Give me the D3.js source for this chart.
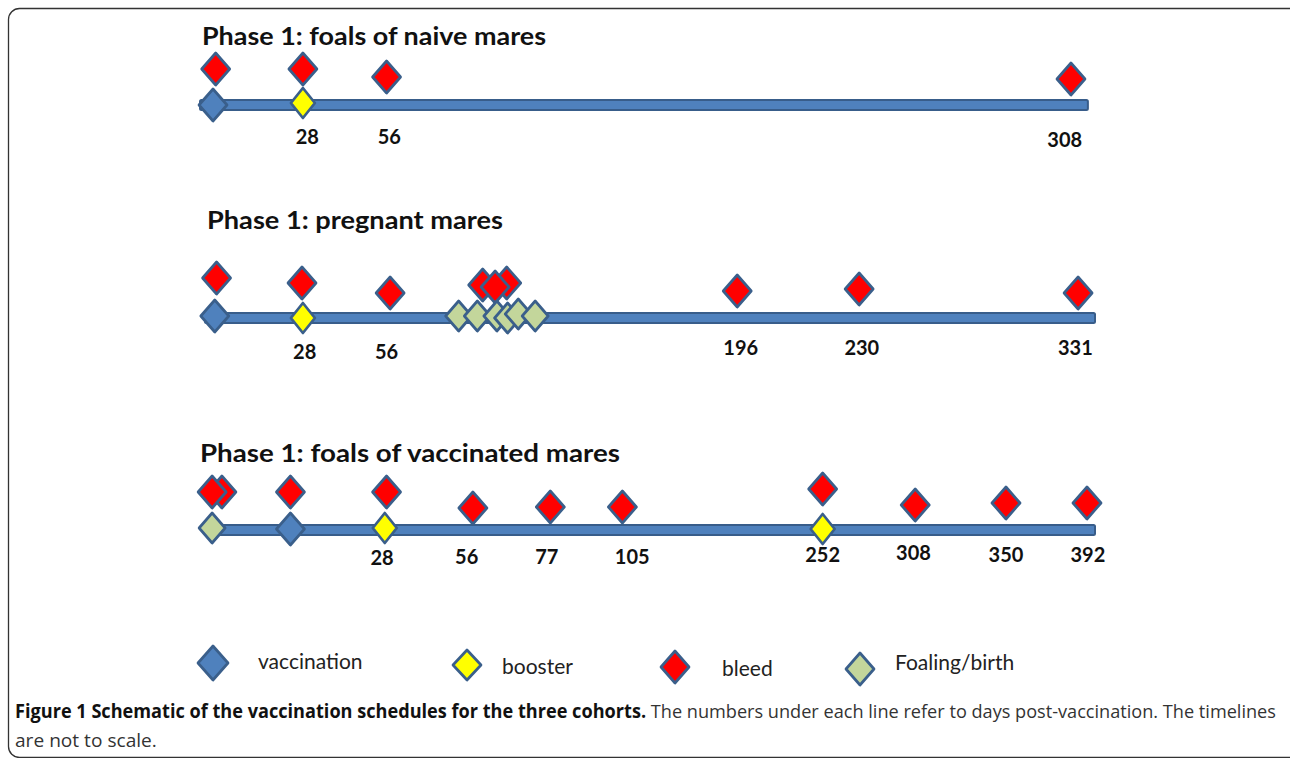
<!DOCTYPE html>
<meta charset="utf-8">
<head>
<style>
  body { margin: 0; background: #fff; }
  text { font-family: Lato, "Open Sans", sans-serif; fill: #111; }
  .title { font-weight: bold; font-size: 25px; }
  .num { font-weight: bold; font-size: 20px; text-anchor: middle; }
  .leg { font-size: 21px; fill: #222; }
  .cap { font-family: "Open Sans", sans-serif; font-size: 19px; }
</style>
</head>
<body>
<script src="https://cdn.jsdelivr.net/npm/d3@7"></script>
<script>

// marker types
var types = ["vaccination", "booster", "bleed", "foaling"];
var typeNames = ["vaccination", "booster", "bleed", "Foaling/birth"];
var typeFill = ["#4f81bd", "#ffff00", "#ff0000", "#c3d69b"];

// panel titles
var titles = ["Phase 1: foals of naive mares", "Phase 1: pregnant mares", "Phase 1: foals of vaccinated mares"];

// events: [type, position along schematic line (0-100), rise above line]
var naive = [
  ["vaccination", 0.9, 0], ["bleed", 1.2, 36],
  ["booster", 11.0, 2], ["bleed", 11.0, 36],
  ["bleed", 20.4, 28], ["bleed", 97.3, 26]
];
var pregnant = [
  ["vaccination", 1.1, 2], ["bleed", 1.3, 40],
  ["booster", 11.0, 0], ["bleed", 10.9, 35],
  ["bleed", 20.8, 25],
  ["bleed", 31.2, 33], ["bleed", 33.9, 35], ["bleed", 32.6, 31],
  ["foaling", 28.5, 2], ["foaling", 30.6, 2], ["foaling", 32.8, 2],
  ["foaling", 34.0, 0], ["foaling", 35.2, 4], ["foaling", 37.1, 2],
  ["bleed", 59.8, 27], ["bleed", 73.5, 29], ["bleed", 98.1, 25]
];
var vaccinated = [
  ["foaling", 0.8, 2], ["bleed", 1.9, 38], ["bleed", 0.8, 38],
  ["vaccination", 9.6, 1], ["bleed", 9.6, 38],
  ["booster", 20.2, 2], ["bleed", 20.4, 38],
  ["bleed", 30.1, 22], ["bleed", 38.8, 23], ["bleed", 46.9, 23],
  ["bleed", 69.4, 41], ["booster", 69.4, 1],
  ["bleed", 79.8, 25], ["bleed", 90.0, 27], ["bleed", 99.1, 27]
];

// day labels: [day, position, drop below line]
var naiveDays = [[28, 11.5, 32], [56, 20.7, 32], [308, 96.6, 35]];
var pregnantDays = [[28, 11.2, 34], [56, 20.4, 34], [196, 60.2, 30], [230, 73.8, 30], [331, 97.8, 30]];
var vaccinatedDays = [[28, 19.9, 28], [56, 29.4, 27], [77, 38.4, 27], [105, 48.0, 27],
  [252, 69.4, 25], [308, 79.6, 23], [350, 90.0, 25], [392, 99.2, 25]];

var captionBold = "Figure 1 Schematic of the vaccination schedules for the three cohorts.";
var captionText = " The numbers under each line refer to days post-vaccination. The timelines";
var captionText2 = "are not to scale.";

var W = 1290, H = 758;
var svg = d3.select("body").append("svg").attr("width", W).attr("height", H);

// figure frame
svg.append("rect")
  .attr("x", 8.5).attr("y", 8.5).attr("width", W + 20).attr("height", H - 9)
  .attr("rx", 11).attr("fill", "none").attr("stroke", "#333").attr("stroke-width", 1.3);

var x = d3.scaleLinear().domain([0, 100]).range([205, 1095]);
var fill = d3.scaleOrdinal().domain(types).range(typeFill);

function diamond(hw, hh) {
  return "M0," + (-hh) + "L" + hw + ",0L0," + hh + "L" + (-hw) + ",0Z";
}
var shape = { vaccination: [14, 16], booster: [12, 15], bleed: [14, 16], foaling: [13, 15] };

var panels = [
  { title: titles[0], tx: 202, ty: 45, tw: 344, lineY: 105, x0: -0.56, x1: 99.2, events: naive, days: naiveDays },
  { title: titles[1], tx: 207, ty: 229, tw: 296, lineY: 318, x0: 0, x1: 100, events: pregnant, days: pregnantDays },
  { title: titles[2], tx: 200, ty: 462, tw: 420, lineY: 530, x0: 0, x1: 100, events: vaccinated, days: vaccinatedDays }
];

panels.forEach(function(p) {
  var g = svg.append("g");
  var y = d3.scaleLinear().domain([0, 50]).range([p.lineY, p.lineY - 50]);

  g.append("text").attr("class", "title")
    .attr("x", p.tx).attr("y", p.ty)
    .attr("textLength", p.tw).attr("lengthAdjust", "spacingAndGlyphs")
    .text(p.title);

  g.append("rect")
    .attr("x", x(p.x0)).attr("y", y(0) - 5)
    .attr("width", x(p.x1) - x(p.x0)).attr("height", 10)
    .attr("rx", 1.5)
    .attr("fill", "#4f81bd").attr("stroke", "#385d8a").attr("stroke-width", 2);

  g.selectAll(".mark").data(p.events).enter().append("path")
    .attr("class", "mark")
    .attr("transform", function(d) { return "translate(" + x(d[1]) + "," + y(d[2]) + ")"; })
    .attr("d", function(d) { var s = shape[d[0]]; return diamond(s[0], s[1]); })
    .attr("fill", function(d) { return fill(d[0]); })
    .attr("stroke", "#3a5f8b").attr("stroke-width", 2.7)
    .attr("stroke-linejoin", "round");

  g.selectAll(".num").data(p.days).enter().append("text")
    .attr("class", "num")
    .attr("x", function(d) { return x(d[1]); })
    .attr("y", function(d) { return y(0) + d[2] + 7; })
    .text(function(d) { return d[0]; });
});

// legend
var legX = [213, 467, 675, 860];
var legY = [663, 665, 667, 669];
var legTextX = [258, 502, 722, 895];
var legTextY = [669, 674, 676, 670];
var legShape = [[15, 17], [14, 15], [14, 16], [14, 16]];

var leg = svg.append("g");
types.forEach(function(t, i) {
  leg.append("path")
    .attr("transform", "translate(" + legX[i] + "," + legY[i] + ")")
    .attr("d", diamond(legShape[i][0], legShape[i][1]))
    .attr("fill", fill(t)).attr("stroke", "#3a5f8b").attr("stroke-width", 2.7)
    .attr("stroke-linejoin", "round");
  leg.append("text").attr("class", "leg")
    .attr("x", legTextX[i]).attr("y", legTextY[i])
    .text(typeNames[i]);
});

// caption: condensed look by squeezing horizontally to the reference width
function fitLine(sel, x0, y0, width) {
  var len = sel.node().getComputedTextLength();
  sel.attr("transform", "translate(" + x0 + "," + y0 + ") scale(" + (width / len) + ",1)");
}
var cap = svg.append("text").attr("class", "cap");
cap.append("tspan").style("font-weight", "bold").style("fill", "#111").text(captionBold);
cap.append("tspan").style("fill", "#333").text(captionText);
fitLine(cap, 15, 718, 1262);

var cap2 = svg.append("text").attr("class", "cap").style("fill", "#333").text(captionText2);
fitLine(cap2, 15, 747, 142);

</script>
</body>
